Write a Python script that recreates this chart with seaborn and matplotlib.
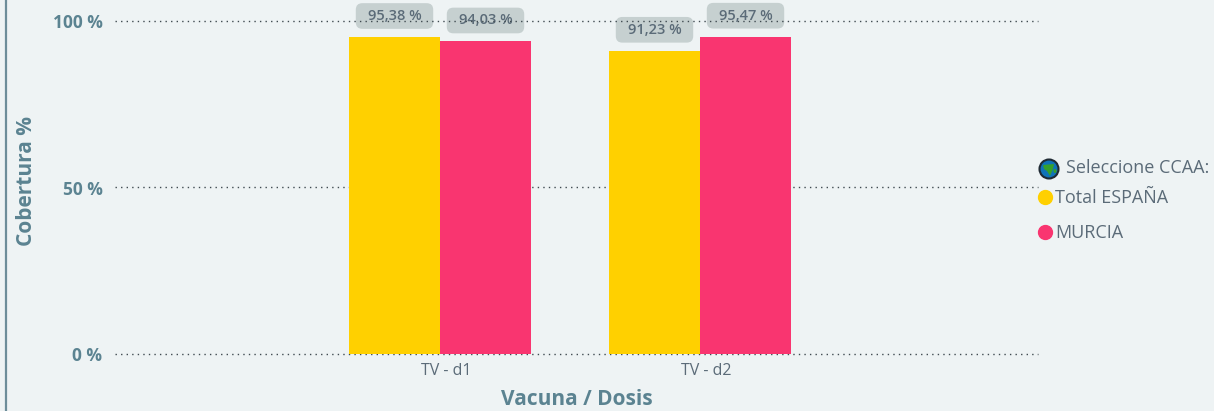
import pandas as pd
import seaborn as sns
import matplotlib.pyplot as plt
from matplotlib.lines import Line2D
from matplotlib.patches import BoxStyle, Circle, Ellipse, Polygon
from matplotlib.transforms import IdentityTransform, ScaledTranslation

# Values
vacunas = ["TV - d1", "TV - d2"]
total_espana = [95.38, 91.23]
murcia = [94.03, 95.47]
series_names = ["Total ESPAÑA", "MURCIA"]
series_colors = ["#ffd000", "#f93570"]
y_ticks = [0, 50, 100]
y_tick_labels = ["0 %", "50 %", "100 %"]

BG = "#eef3f4"
AXIS_COLOR = "#5b8391"
TEXT_COLOR = "#5b6b78"


# Round box that is wider than the default uniform padding allows
class WideRound(BoxStyle.Round):
    def __call__(self, x0, y0, width, height, mutation_size):
        return super().__call__(x0 - 6, y0, width + 12, height, mutation_size)


df = pd.DataFrame({
    "Vacuna": vacunas * 2,
    "Serie": [series_names[0]] * 2 + [series_names[1]] * 2,
    "Cobertura": total_espana + murcia,
})

sns.set_theme(style="white")
plt.rcParams["font.family"] = ["Open Sans", "DejaVu Sans"]

W, H = 1214, 411
fig = plt.figure(figsize=(W / 100, H / 100), dpi=100, facecolor=BG)
ax = fig.add_axes([115 / W, 1 - 353.5 / H, (1038 - 115) / W, (353.5 - 21.5) / H], facecolor=BG)

sns.barplot(data=df, x="Vacuna", y="Cobertura", hue="Serie", palette=series_colors,
            width=0.7, gap=0, saturation=1, legend=False, zorder=3, linewidth=0, ax=ax)
ax.set_xlim(-1.25, 2.3)
ax.set_ylim(0, 100)

# Dotted grid sits over the value labels but under the bars
ax.set_axisbelow(False)
ax.set_yticks(y_ticks, y_tick_labels)
ax.yaxis.grid(True, color="#3f4a50", linestyle=(0, (1, 3)), linewidth=1.0)
ax.xaxis.grid(False)
for gl in ax.get_ygridlines():
    gl.set_clip_on(False)
sns.despine(ax=ax, left=True, bottom=True)

ax.tick_params(axis="y", length=0, pad=9, labelcolor=AXIS_COLOR, labelsize=12.5)
for t in ax.get_yticklabels():
    t.set_fontweight("bold")
ax.tick_params(axis="x", length=0, pad=7, labelcolor=TEXT_COLOR, labelsize=11.5)
# The x labels sit a little right of the bar groups in the original
shift = ScaledTranslation(6.5 / 100, 0, fig.dpi_scale_trans)
for t in ax.get_xticklabels():
    t.set_transform(t.get_transform() + shift)

ax.set_xlabel("Vacuna / Dosis", color=AXIS_COLOR, fontsize=15, fontweight="bold", labelpad=7)
ax.set_ylabel("Cobertura %", color=AXIS_COLOR, fontsize=15, fontweight="bold", labelpad=11, y=0.52)

# Value labels in rounded grey boxes above the bars
for container in ax.containers:
    labels = [f"{b.get_height():.2f} %".replace(".", ",") for b in container]
    texts = ax.bar_label(container, labels=labels, padding=15, fontsize=10.5, color=TEXT_COLOR,
                         fontweight="semibold", zorder=2, clip_on=False,
                         bbox=dict(boxstyle=WideRound(pad=0.4, rounding_size=0.45), fc="#c6d0d0", ec="none"))
    for t in texts:
        t.set_va("center")

# Legend
handles = [Line2D([], [], linestyle="none", marker="o", markersize=10, color=c) for c in series_colors]
leg = fig.legend(handles, series_names, loc="upper left", bbox_to_anchor=(1027 / W, 1 - 189 / H),
                 bbox_transform=fig.transFigure, frameon=False, fontsize=13, labelcolor=TEXT_COLOR,
                 handletextpad=-0.45, labelspacing=0.95, borderpad=0, borderaxespad=0)

fig.text(1066 / W, 1 - 168 / H, "Seleccione CCAA:", color=TEXT_COLOR, fontsize=13, va="center", ha="left")

# Small globe icon next to the selector text
cx, cy = 1049, H - 169
px = IdentityTransform()
fig.add_artist(Circle((cx, cy), 9.5, transform=px, fc="#0f73b8", ec="#1f2a33", lw=1.5))
fig.add_artist(Polygon([(cx - 6, cy + 4), (cx + 5, cy + 5), (cx + 4, cy), (cx + 1, cy - 7), (cx - 2, cy - 2), (cx - 5, cy)],
                       transform=px, fc="#35a02c", ec="none"))
fig.add_artist(Ellipse((cx + 6, cy - 2), 3, 4, transform=px, fc="#35a02c", ec="none"))

# Left border of the panel
fig.add_artist(Line2D([5.5 / W, 5.5 / W], [0, 1], transform=fig.transFigure, color="#6d8d99", lw=1.6))

fig.savefig("out.png", dpi=100, facecolor=BG)
